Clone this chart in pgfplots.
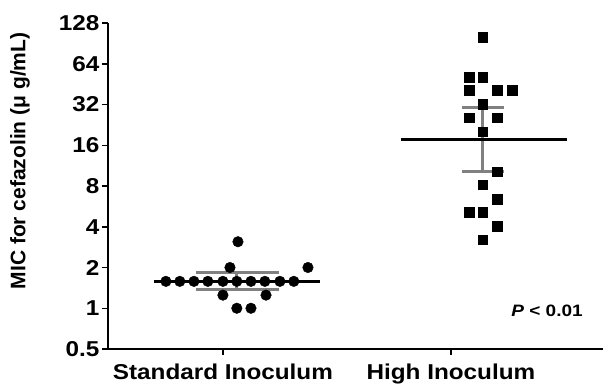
\documentclass[border=0pt]{standalone}
\usepackage{pgfplots}
\pgfplotsset{compat=1.18}
\usepackage{fontspec}
\setmainfont{Liberation Sans}
\definecolor{errgray}{RGB}{128,128,128}
\begin{document}
\begin{tikzpicture}
\begin{axis}[
  scale only axis,
  width=495pt, height=326pt,
  xmin=-0.504, xmax=1.667,
  ymode=log, log basis y=2,
  ymin=0.5, ymax=128,
  axis x line=bottom, axis y line=left,
  axis line style={line width=2pt, -},
  xtick={0,1},
  xticklabels={Standard Inoculum, High Inoculum},
  ytick={0.5,1,2,4,8,16,32,64,128},
  yticklabels={0.5,1,2,4,8,16,32,64,128},
  minor tick num=0,
  tick align=outside,
  major tick length=6pt,
  tick style={line width=1.5pt, black},
  /pgf/number format/assume math mode=true,
  ticklabel style={font=\fontsize{21.5}{21.5}\selectfont\bfseries, xscale=1.13},
  yticklabel style={inner sep=2pt},
  xticklabel style={inner sep=2pt, yshift=-7pt},
  ylabel={MIC for cefazolin (μ g/mL)},
  ylabel style={at={(axis description cs:-0.1778,0.577)}, anchor=center, rotate=0, font=\fontsize{21}{21}\selectfont\bfseries},
  clip=false,
]
\coordinate (sw) at (rel axis cs:0,0);
% error bars (SEM) gray
\addplot[errgray, line width=3pt] coordinates {(-0.118,1.84) (0.246,1.84)};
\addplot[errgray, line width=3pt] coordinates {(-0.118,1.37) (0.246,1.37)};
\addplot[errgray, line width=3pt] coordinates {(0.061,1.37) (0.061,1.84)};
\addplot[errgray, line width=3pt] coordinates {(1.048,30.2) (1.232,30.2)};
\addplot[errgray, line width=3pt] coordinates {(1.048,10.2) (1.232,10.2)};
\addplot[errgray, line width=3pt] coordinates {(1.140,10.2) (1.140,30.2)};
% means
\addplot[black, line width=3pt] coordinates {(-0.303,1.58) (0.425,1.58)};
\addplot[black, line width=3pt] coordinates {(0.781,17.6) (1.509,17.6)};
% standard inoculum points
\addplot[only marks, mark=*, mark size=5.3pt, black] coordinates {
 (-0.250,1.58) (-0.189,1.58) (-0.127,1.58) (-0.066,1.58) (0.000,1.58)
 (0.061,1.58) (0.123,1.58) (0.184,1.58) (0.250,1.58) (0.311,1.58)
 (0.031,2) (0.373,2) (0.066,3.1)
 (0.000,1.25) (0.189,1.25)
 (0.061,1) (0.123,1)
};
% high inoculum points
\addplot[only marks, mark=square*, mark size=4.8pt, black] coordinates {
 (1.140,101)
 (1.079,51) (1.140,51)
 (1.079,40.8) (1.202,40.8) (1.268,40.8)
 (1.140,32.3)
 (1.079,25.6) (1.202,25.6)
 (1.140,20.2)
 (1.202,10.2)
 (1.140,8.2)
 (1.202,6.4)
 (1.079,5.1) (1.140,5.1)
 (1.202,4.05)
 (1.140,3.2)
};
\node[font=\fontsize{16.5}{16.5}\selectfont\bfseries, xscale=1.15, anchor=center] at (axis description cs:0.887,0.118) {\textit{P} < 0.01};
\end{axis}
\pgfresetboundingbox
\path[use as bounding box] (sw) ++(-108pt,-37pt) rectangle ++(603pt,386pt);
\end{tikzpicture}
\end{document}
